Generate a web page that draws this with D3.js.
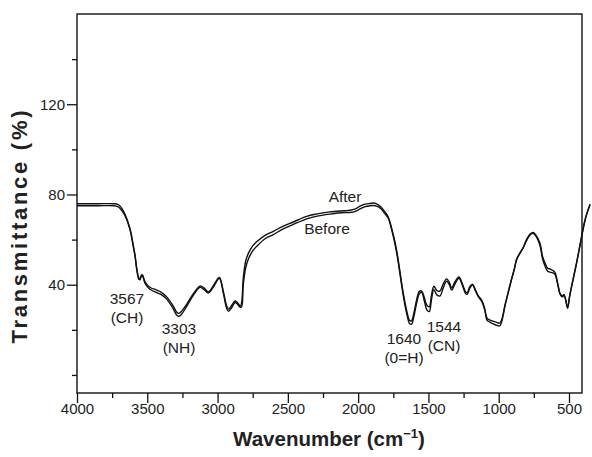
<!DOCTYPE html>
<html>
<head>
<meta charset="utf-8">
<script src="https://cdn.jsdelivr.net/npm/d3@7"></script>
<style>
  body { margin: 0; background: #fff; }
  text { font-family: "Liberation Sans", Arial, sans-serif; fill: #222; }
</style>
</head>
<body>
<svg width="592" height="457"></svg>
<script>
// wavenumber (cm-1) and transmittance (%)
const wavenumbers = [4000, 3850, 3740, 3710, 3690, 3660, 3623, 3600, 3587, 3575, 3560, 3552, 3540, 3533, 3515, 3481, 3433, 3400, 3362, 3315, 3290, 3275, 3255, 3220, 3170, 3125, 3095, 3066, 3030, 2995, 2985, 2959, 2935, 2922, 2900, 2876, 2860, 2838, 2829, 2817, 2800, 2780, 2750, 2722, 2660, 2604, 2540, 2462, 2366, 2300, 2201, 2100, 2058, 2020, 1987, 1950, 1916, 1890, 1869, 1840, 1810, 1786, 1760, 1738, 1720, 1703, 1685, 1667, 1650, 1635, 1620, 1605, 1585, 1565, 1548, 1530, 1512, 1494, 1478, 1461, 1440, 1418, 1395, 1371, 1350, 1335, 1310, 1283, 1260, 1235, 1224, 1205, 1186, 1165, 1146, 1120, 1100, 1082, 1060, 1039, 1015, 992, 975, 956, 932, 909, 890, 873, 850, 826, 800, 775, 755, 735, 707, 688, 672, 652, 636, 615, 600, 580, 565, 553, 546, 536, 525, 510, 495, 470, 446, 420, 400, 380, 350]

const before = [75.0, 75.0, 75.0, 74.6, 73.6, 70.8, 64.4, 57.0, 52.6, 46.7, 42.4, 42.2, 44.1, 43.8, 40.5, 38.0, 36.5, 35.6, 33.6, 29.3, 26.5, 26.0, 27.0, 30.4, 35.5, 38.8, 37.8, 36.3, 39.0, 42.5, 42.8, 36.3, 29.5, 28.2, 29.8, 32.1, 31.5, 30.0, 30.2, 40.0, 47.5, 51.5, 55.0, 57.0, 60.5, 62.2, 64.5, 66.7, 69.2, 70.3, 71.3, 72.0, 72.0, 72.5, 73.6, 74.6, 75.0, 75.1, 74.8, 73.8, 71.5, 69.5, 64.0, 58.0, 52.0, 45.0, 37.5, 31.0, 26.0, 22.8, 22.5, 25.5, 31.5, 36.0, 36.6, 33.0, 29.0, 28.1, 33.5, 37.8, 35.5, 35.0, 38.5, 41.6, 39.8, 37.6, 40.5, 42.8, 40.0, 36.0, 35.8, 38.5, 39.8, 37.2, 34.8, 32.5, 29.0, 24.2, 23.3, 22.7, 22.0, 21.8, 24.5, 30.4, 36.5, 42.2, 46.5, 51.0, 53.8, 56.3, 59.8, 62.2, 62.8, 61.5, 57.5, 51.5, 48.5, 46.0, 45.6, 45.2, 44.6, 40.0, 36.0, 34.8, 34.6, 35.4, 33.5, 29.6, 35.0, 42.5, 49.6, 58.0, 64.5, 70.0, 75.5]

const after = [75.9, 75.9, 75.9, 75.6, 74.6, 71.4, 64.8, 57.6, 53.0, 47.3, 43.0, 42.8, 44.4, 44.2, 41.2, 38.9, 37.6, 36.6, 34.6, 30.5, 27.8, 27.3, 28.3, 31.3, 36.2, 39.4, 38.5, 36.8, 39.6, 43.0, 43.2, 37.0, 30.5, 29.2, 30.8, 32.8, 32.2, 30.5, 32.0, 43.0, 50.5, 54.0, 57.2, 59.0, 62.0, 63.6, 65.8, 67.8, 70.3, 71.3, 72.3, 72.8, 73.0, 73.6, 74.8, 75.7, 76.0, 76.2, 75.8, 74.6, 72.3, 70.0, 64.6, 59.0, 53.0, 46.0, 38.5, 32.2, 27.3, 24.2, 24.0, 27.0, 33.0, 37.0, 37.2, 34.5, 31.0, 30.2, 35.5, 39.3, 37.4, 37.2, 40.3, 42.6, 40.8, 38.6, 41.5, 43.4, 40.6, 36.8, 36.5, 39.2, 40.2, 37.6, 35.2, 33.0, 29.5, 25.0, 24.3, 23.8, 23.3, 23.0, 25.3, 30.8, 36.8, 42.5, 46.8, 51.3, 54.0, 56.5, 60.3, 62.6, 63.2, 62.0, 58.5, 52.5, 49.8, 47.3, 47.0, 46.3, 45.5, 40.5, 36.3, 35.2, 35.0, 35.7, 33.8, 29.9, 35.2, 42.7, 49.8, 58.2, 64.7, 70.2, 75.7]

const xMajor = [4000, 3500, 3000, 2500, 2000, 1500, 1000, 500]
const xMinor = [3750, 3250, 2750, 2250, 1750, 1250, 750]
const yMajor = [40, 80, 120]
const yMinor = [0, 20, 60, 100, 140]

const peaks = [
	{ lines: ['3567', '(CH)'], x: 127, y: 304 },
	{ lines: ['3303', '(NH)'], x: 179, y: 334 },
	{ lines: ['1640', '(0=H)'], x: 404, y: 344 },
	{ lines: ['1544', '(CN)'], x: 444, y: 332 },
]

const svg = d3.select('svg')

const plotLeft = 77, plotRight = 582, plotTop = 14, plotBottom = 393

const x = d3.scaleLinear().domain([4000, 500]).range([plotLeft, 569])
const y = d3.scaleLinear().domain([-8, 160]).range([plotBottom, plotTop])

// ticks
svg.append('g').attr('transform', `translate(0,${plotBottom})`)
	.call(d3.axisBottom(x).tickValues(xMajor).tickSize(10).tickPadding(0).tickFormat(d3.format('d')))
svg.append('g').attr('transform', `translate(0,${plotBottom})`)
	.call(d3.axisBottom(x).tickValues(xMinor).tickSize(5).tickFormat(''))

svg.append('g').attr('transform', `translate(${plotLeft},0)`)
	.call(d3.axisLeft(y).tickValues(yMajor).tickSize(10).tickPadding(2))
svg.append('g').attr('transform', `translate(${plotLeft},0)`)
	.call(d3.axisLeft(y).tickValues(yMinor).tickSize(5).tickFormat(''))

svg.selectAll('.domain').remove()
svg.selectAll('.tick line').attr('stroke', '#111').attr('stroke-width', 1.3)
svg.selectAll('.tick text').style('font-size', '15px').attr('fill', '#222')

// frame
svg.append('rect')
	.attr('x', plotLeft).attr('y', plotTop)
	.attr('width', plotRight - plotLeft).attr('height', plotBottom - plotTop)
	.attr('fill', 'none').attr('stroke', '#111').attr('stroke-width', 1.4)

const line = d3.line()
	.x((d, i) => x(wavenumbers[i]))
	.y(d => y(d))
	.curve(d3.curveCatmullRom.alpha(0.5))

svg.append('path').datum(before)
	.attr('d', line).attr('fill', 'none').attr('stroke', '#111').attr('stroke-width', 1.4)
svg.append('path').datum(after)
	.attr('d', line).attr('fill', 'none').attr('stroke', '#111').attr('stroke-width', 1.4)

// series labels
svg.append('text').attr('x', 345).attr('y', 202).attr('text-anchor', 'middle')
	.style('font-size', '15.5px').text('After')
svg.append('text').attr('x', 327).attr('y', 234).attr('text-anchor', 'middle')
	.style('font-size', '15.5px').text('Before')

// peak labels
peaks.forEach(p => {
	p.lines.forEach((t, i) => {
		svg.append('text')
			.attr('x', p.x).attr('y', p.y + i * 19)
			.attr('text-anchor', 'middle')
			.style('font-size', '15.5px')
			.text(t)
	})
})

// axis titles
svg.append('text')
	.attr('x', 329).attr('y', 446)
	.attr('text-anchor', 'middle')
	.style('font-size', '20.5px').style('font-weight', 'bold').attr('fill', '#111')
	.html('Wavenumber (cm<tspan dy="-8" style="font-size:13px">\u22121</tspan><tspan dy="8">)</tspan>')

svg.append('text')
	.attr('transform', 'translate(27,227) rotate(-90)')
	.attr('text-anchor', 'middle')
	.attr('textLength', 233).attr('lengthAdjust', 'spacing')
	.style('font-size', '22px').style('font-weight', 'bold').attr('fill', '#111')
	.text('Transmittance (%)')
</script>
</body>
</html>
